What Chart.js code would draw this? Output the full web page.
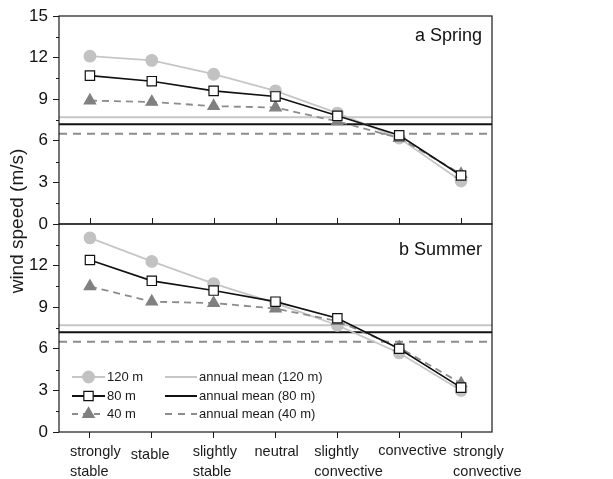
<!DOCTYPE html>
<html>
<head>
<meta charset="utf-8">
<script src="https://cdn.jsdelivr.net/npm/chart.js@4.4.1/dist/chart.umd.min.js"></script>
<style>
  html, body { margin: 0; padding: 0; background: #fff; }
  #wrap { width: 613px; height: 479px; }
</style>
</head>
<body>
<div id="wrap"><canvas id="chart" width="613" height="479"></canvas></div>
<script>
// stability classes on the x axis
const categories = [
  ['strongly', 'stable'], 'stable', ['slightly', 'stable'], 'neutral',
  ['slightly', 'convective'], 'convective', ['strongly', 'convective']
];
// panel a: spring
const spring120 = [12.1, 11.8, 10.8, 9.6, 8.0, 6.2, 3.1];
const spring80 = [10.7, 10.3, 9.6, 9.2, 7.8, 6.4, 3.5];
const spring40 = [8.9, 8.8, 8.5, 8.4, 7.4, 6.2, 3.6];
// panel b: summer
const summer120 = [14.0, 12.3, 10.7, 9.3, 7.7, 5.7, 3.0];
const summer80 = [12.4, 10.9, 10.2, 9.4, 8.2, 6.0, 3.2];
const summer40 = [10.5, 9.4, 9.3, 8.9, 8.0, 6.1, 3.5];
// annual means, same in both panels: 120 m, 80 m, 40 m
const annualMean = [7.7, 7.2, 6.5];
const heights = ['120 m', '80 m', '40 m'];
const panelTitles = ['a Spring', 'b Summer'];
const yMin = 0, yMax = 15, yStep = 3;

// label placement: left edge relative to the tick, and vertical middle of a single line
const labelNudge = [-20, -21, -21, -21, -23, -21, -8];
const singleLineY = [0, 455, 0, 452, 0, 451, 0];

const FONT = '"Liberation Sans", Arial, sans-serif';
const INK = '#1a1a1a';
const STYLE = [
  { line: '#c6c6c6', fill: '#c2c2c2', stroke: '#c2c2c2', point: 'circle', radius: 5.8, dash: [] },
  { line: '#111111', fill: '#ffffff', stroke: '#111111', point: 'rect', radius: 6.6, dash: [] },
  { line: '#8c8c8c', fill: '#808080', stroke: '#808080', point: 'triangle', radius: 6.6, dash: [7, 5] }
];

function series(data, axis, k) {
  const s = STYLE[k];
  return {
    label: heights[k],
    data: data,
    yAxisID: axis,
    borderColor: s.line,
    borderWidth: k === 1 ? 1.6 : 1.8,
    borderDash: s.dash,
    pointStyle: s.point,
    pointRadius: s.radius,
    pointHoverRadius: s.radius,
    pointBackgroundColor: s.fill,
    pointBorderColor: s.stroke,
    pointBorderWidth: 1.2,
    tension: 0,
    order: k === 1 ? 0 : (k === 0 ? 2 : 1)
  };
}

function yAxis(bottom) {
  return {
    type: 'linear',
    stack: 'panels',
    stackWeight: 1,
    min: yMin,
    max: yMax,
    afterFit: s => { s.width = 59; },
    border: { display: false },
    grid: { display: true, drawOnChartArea: false, drawTicks: true, tickLength: 6, color: INK, lineWidth: 1 },
    ticks: {
      stepSize: yStep,
      autoSkip: false,
      padding: 5,
      color: '#111',
      font: { family: FONT, size: 17 },
      callback: v => (bottom && v === yMax) ? '' : v
    }
  };
}

const decorations = {
  id: 'decorations',
  beforeDatasetsDraw(chart) {
    const ctx = chart.ctx;
    const a = chart.chartArea;
    ctx.save();
    ['ySpring', 'ySummer'].forEach(id => {
      const sc = chart.scales[id];
      annualMean.forEach((m, k) => {
        const y = sc.getPixelForValue(m);
        ctx.strokeStyle = STYLE[k].line;
        ctx.lineWidth = 2;
        ctx.setLineDash(STYLE[k].dash.length ? [8, 6] : []);
        ctx.beginPath();
        ctx.moveTo(a.left, y);
        ctx.lineTo(a.right, y);
        ctx.stroke();
      });
    });
    ctx.restore();
  },
  afterDraw(chart) {
    const ctx = chart.ctx;
    const a = chart.chartArea;
    const xs = chart.scales.x;
    ctx.save();
    ctx.strokeStyle = INK;
    ctx.lineWidth = 1.2;
    ctx.setLineDash([]);
    // panel frames
    ['ySpring', 'ySummer'].forEach(id => {
      const sc = chart.scales[id];
      ctx.strokeRect(a.left, sc.top, a.right - a.left, sc.bottom - sc.top);
      // minor ticks
      ctx.lineWidth = 1;
      for (let v = yMin + yStep / 2; v < yMax; v += yStep) {
        const y = Math.round(sc.getPixelForValue(v)) + 0.5;
        ctx.beginPath();
        ctx.moveTo(a.left - 3, y);
        ctx.lineTo(a.left, y);
        ctx.stroke();
      }
      ctx.lineWidth = 1.2;
    });
    // inward ticks on the base of panel a
    const yb = chart.scales.ySpring.bottom;
    ctx.lineWidth = 1;
    categories.forEach((c, i) => {
      const x = Math.round(xs.getPixelForTick(i)) + 0.5;
      ctx.beginPath();
      ctx.moveTo(x, yb);
      ctx.lineTo(x, yb - 6);
      ctx.stroke();
    });
    // category labels, left aligned blocks as in the original
    ctx.fillStyle = INK;
    ctx.font = '14.5px ' + FONT;
    ctx.textAlign = 'left';
    ctx.textBaseline = 'middle';
    categories.forEach((c, i) => {
      const x = xs.getPixelForTick(i) + labelNudge[i];
      if (Array.isArray(c)) {
        c.forEach((line, j) => ctx.fillText(line, x, 452 + j * 20));
      } else {
        ctx.fillText(c, x, singleLineY[i]);
      }
    });
    // panel titles
    ctx.fillStyle = '#111';
    ctx.font = '18px ' + FONT;
    ctx.textAlign = 'right';
    ctx.textBaseline = 'alphabetic';
    ctx.fillText(panelTitles[0], a.right - 10, chart.scales.ySpring.top + 25);
    ctx.fillText(panelTitles[1], a.right - 10, chart.scales.ySummer.top + 31);
    // y title
    ctx.save();
    ctx.translate(18, (a.top + a.bottom) / 2 - 3);
    ctx.rotate(-Math.PI / 2);
    ctx.textAlign = 'center';
    ctx.textBaseline = 'middle';
    ctx.font = '19px ' + FONT;
    ctx.fillStyle = INK;
    ctx.fillText('wind speed (m/s)', 0, 0);
    ctx.restore();
    // legend
    ctx.font = '13px ' + FONT;
    ctx.textAlign = 'left';
    ctx.textBaseline = 'middle';
    ctx.fillStyle = INK;
    const rows = [377, 396, 414];
    heights.forEach((h, k) => {
      const s = STYLE[k];
      const y = rows[k];
      ctx.strokeStyle = s.line;
      ctx.lineWidth = k === 1 ? 1.8 : 2;
      ctx.setLineDash(k === 2 ? [6, 5] : []);
      ctx.beginPath();
      ctx.moveTo(72, y);
      ctx.lineTo(105, y);
      ctx.stroke();
      ctx.setLineDash([]);
      ctx.fillStyle = s.fill;
      ctx.strokeStyle = s.stroke;
      ctx.lineWidth = 1.2;
      Chart.helpers.drawPoint(ctx, { pointStyle: s.point, radius: s.radius, rotation: 0, borderWidth: 1.2 }, 88.5, y);
      ctx.fillStyle = INK;
      ctx.fillText(h, 107, y);
      // annual mean entry
      ctx.strokeStyle = s.line;
      ctx.lineWidth = 2;
      ctx.setLineDash(k === 2 ? [7, 6] : []);
      ctx.beginPath();
      ctx.moveTo(165, y);
      ctx.lineTo(197, y);
      ctx.stroke();
      ctx.setLineDash([]);
      ctx.fillText('annual mean (' + h + ')', 199, y);
    });
    ctx.restore();
  }
};

new Chart(document.getElementById('chart'), {
  type: 'line',
  data: {
    labels: categories,
    datasets: [
      series(spring120, 'ySpring', 0),
      series(spring80, 'ySpring', 1),
      series(spring40, 'ySpring', 2),
      series(summer120, 'ySummer', 0),
      series(summer80, 'ySummer', 1),
      series(summer40, 'ySummer', 2)
    ]
  },
  options: {
    responsive: false,
    animation: false,
    devicePixelRatio: 1,
    layout: { padding: { top: 16, right: 121, left: 0, bottom: 0 } },
    plugins: { legend: { display: false }, tooltip: { enabled: false } },
    scales: {
      x: {
        type: 'category',
        offset: true,
        afterFit: s => { s.height = 47; },
        border: { display: false },
        grid: { display: true, offset: false, drawOnChartArea: false, tickLength: 6, color: INK },
        ticks: { display: false, autoSkip: false, maxRotation: 0 }
      },
      // declared bottom panel first: the stack places it lower
      ySummer: yAxis(true),
      ySpring: yAxis(false)
    }
  },
  plugins: [decorations]
});
</script>
</body>
</html>
